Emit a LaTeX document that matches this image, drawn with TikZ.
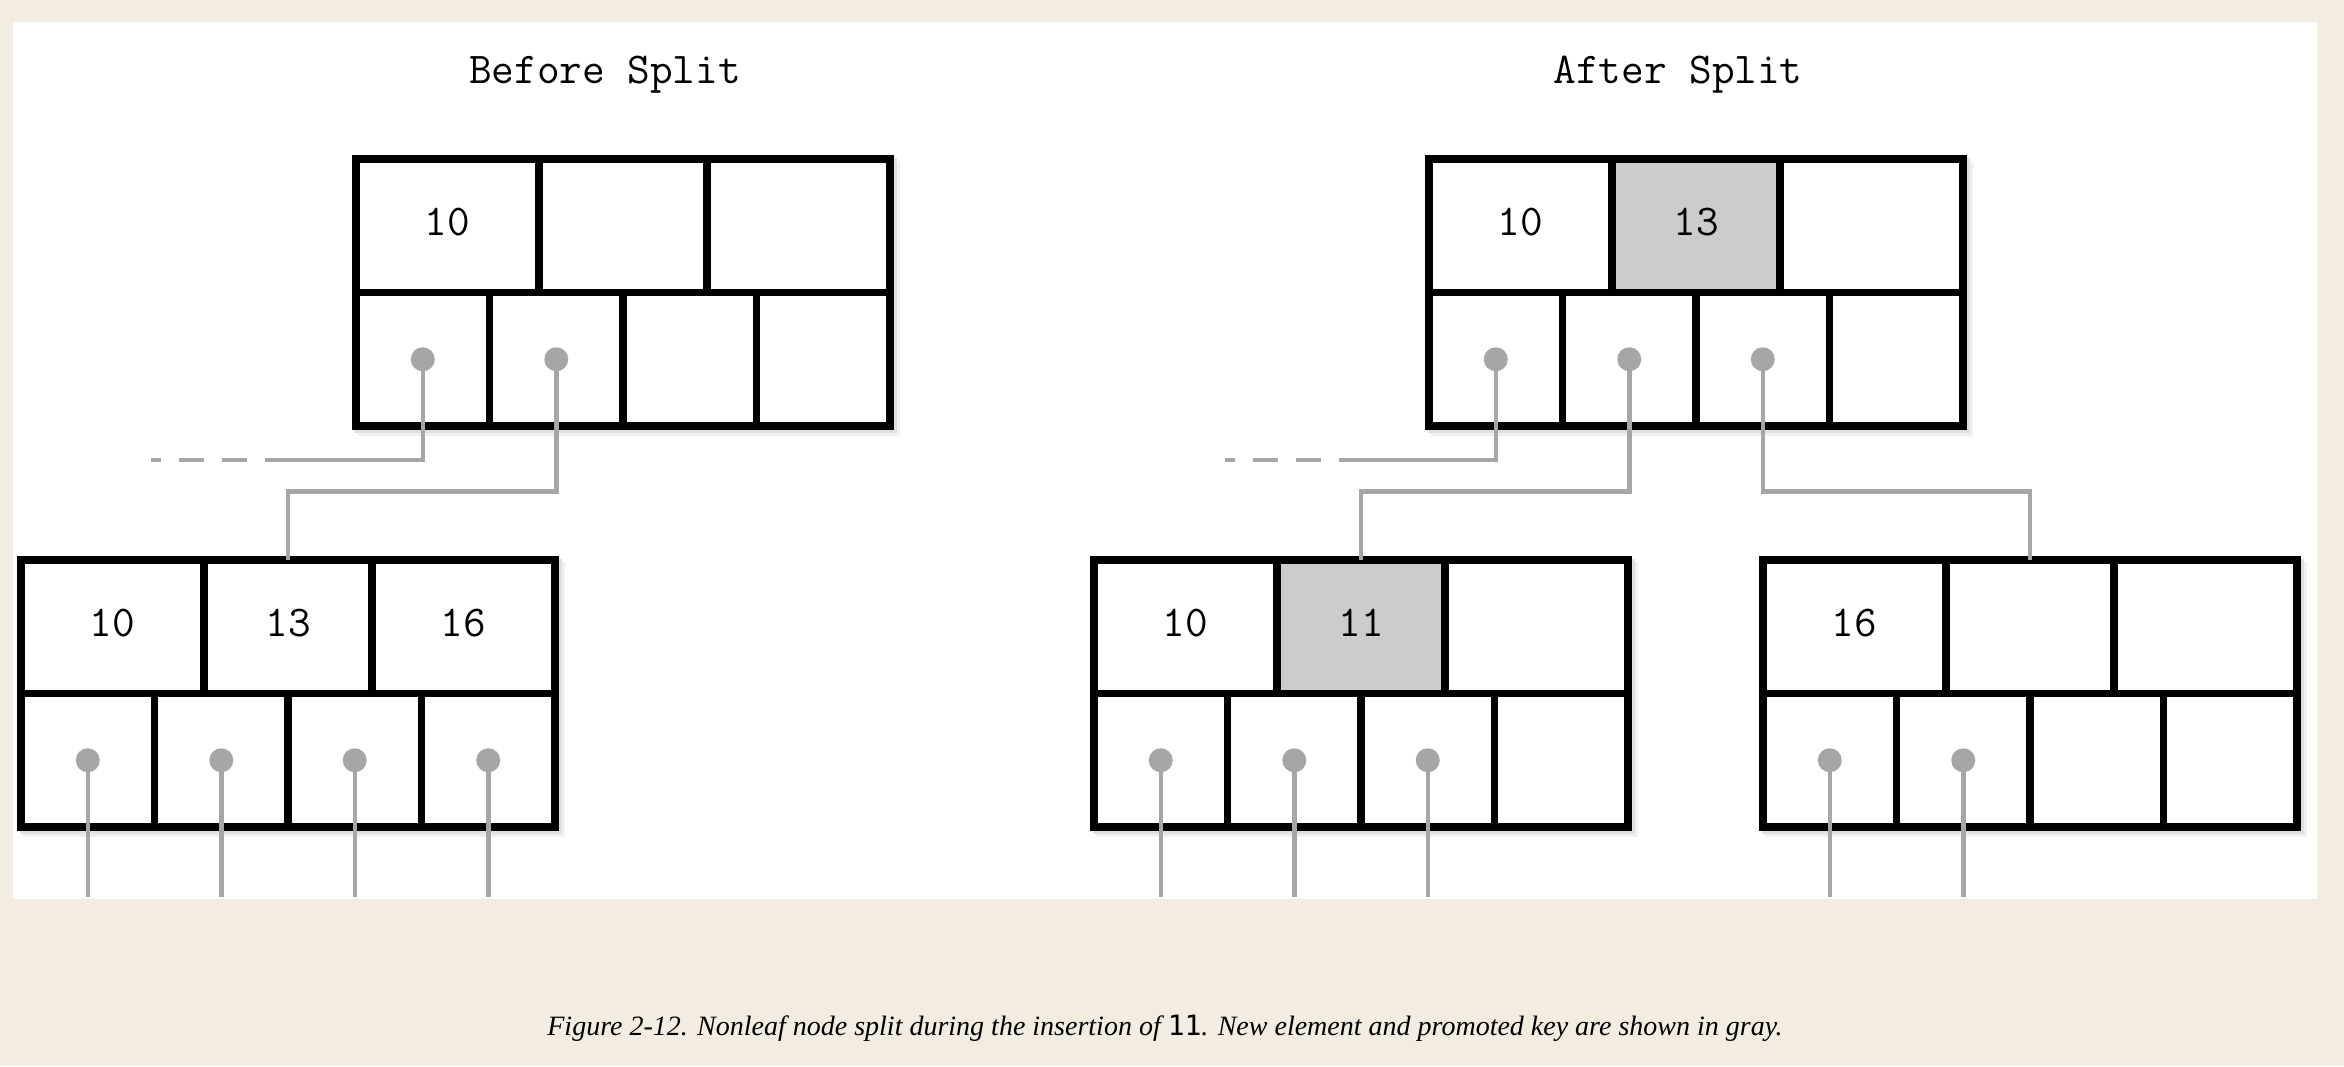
\documentclass[tikz,border=0pt]{standalone}
\usepackage{fontspec}
\setmainfont{Liberation Serif}
\newfontfamily\capmono{DejaVu Sans Mono}
\definecolor{pagebeige}{HTML}{F3ECE0}
\definecolor{ptrgray}{HTML}{A6A6A6}
\definecolor{hlgray}{HTML}{CCCCCC}
\newcommand\btnode[7]{%
  \fill[black!6] ({#2-270.75+6},{#3-3.75+6}) rectangle ++(541.5,274.5);
  \fill[black!12] ({#2-270.75+3},{#3-3.75+3}) rectangle ++(541.5,274.5);
  \node[keycell, minimum width=183pt, anchor=north west] (#1-k1) at ({#2-267},{#3}) {#4};
  \node[keycell, #7, minimum width=168pt, anchor=north] (#1-k2) at ({#2},{#3}) {#5};
  \node[keycell, minimum width=183pt, anchor=north east] (#1-k3) at ({#2+267},{#3}) {#6};
  \foreach \i in {1,2,3,4}{\node[ptrcell, anchor=north west] (#1-p\i) at ({#2-267+133.5*(\i-1)},{#3+133.5}) {};}
  \node[frame] (#1) at ({#2},{#3+133.5}) {};
}
\begin{document}
\begin{tikzpicture}[x=1pt,y=-1pt,
  keycell/.style={draw=black, line width=7.5pt, fill=white, minimum height=133.5pt,
    inner sep=0pt, outer sep=0pt, font=\ttfamily\fontsize{44}{52}\selectfont,
    text height=28pt, text depth=9pt},
  hl/.style={fill=hlgray},
  ptrcell/.style={draw=black, line width=7.5pt, fill=white, minimum width=133.5pt,
    minimum height=133.5pt, inner sep=0pt, outer sep=0pt},
  frame/.style={draw=black, line width=7.5pt, minimum width=534pt, minimum height=267pt,
    inner sep=0pt, outer sep=0pt},
  dot/.style={circle, fill=ptrgray, draw=none, minimum size=24pt, inner sep=0pt},
  ptr/.style={draw=ptrgray, line width=4.5pt},
  fade/.style={ptr, dash pattern=on 0pt off 18pt on 25pt off 18pt on 25pt off 18pt on 10pt off 300pt},
  title/.style={font=\ttfamily\fontsize{44}{52}\selectfont, anchor=base, inner sep=0pt}]
\useasboundingbox (0,0) rectangle (2344,1066);
\fill[pagebeige] (0,0) rectangle (2344,1066);
\fill[white] (13,22) rectangle (2317,899);
\coordinate (bottomline) at (0,897);

\node[title] (tbefore) at (605,83) {Before Split};
\node[title] (tafter) at (1678,83) {After Split};

% Before split
\btnode{BT}{623}{159}{10}{}{}{}
\btnode{BL}{288}{560}{10}{13}{16}{}
% After split
\btnode{AT}{1696}{159}{10}{13}{}{hl}
\btnode{AM}{1361}{560}{10}{11}{}{hl}
\btnode{AR}{2030}{560}{16}{}{}{}

% connectors (before)
\coordinate (bfade) at (265,460);
\coordinate (bfadeend) at (151,460);
\draw[ptr] (BT-p1.center) |- (bfade);
\draw[fade] (bfade) -- (bfadeend);
\draw[ptr] (BT-p2.center) -- ++(0,132) -| (BL.north);
\foreach \i in {1,2,3,4}{\draw[ptr] (BL-p\i.center) -- (BL-p\i.center |- bottomline);}

% connectors (after)
\coordinate (afade) at (1339,460);
\coordinate (afadeend) at (1225,460);
\draw[ptr] (AT-p1.center) |- (afade);
\draw[fade] (afade) -- (afadeend);
\draw[ptr] (AT-p2.center) -- ++(0,132) -| (AM.north);
\draw[ptr] (AT-p3.center) -- ++(0,132) -| (AR.north);
\foreach \i in {1,2,3}{\draw[ptr] (AM-p\i.center) -- (AM-p\i.center |- bottomline);}
\foreach \i in {1,2}{\draw[ptr] (AR-p\i.center) -- (AR-p\i.center |- bottomline);}

% dots
\foreach \i in {1,2}{\node[dot] (BT-d\i) at (BT-p\i.center) {};}
\foreach \i in {1,2,3,4}{\node[dot] (BL-d\i) at (BL-p\i.center) {};}
\foreach \i in {1,2,3}{\node[dot] (AT-d\i) at (AT-p\i.center) {};}
\foreach \i in {1,2,3}{\node[dot] (AM-d\i) at (AM-p\i.center) {};}
\foreach \i in {1,2}{\node[dot] (AR-d\i) at (AR-p\i.center) {};}

\node[anchor=base, inner sep=0pt, font=\itshape\fontsize{28}{33}\selectfont] (caption) at (1165,1035)
  {Figure 2-12. Nonleaf node split during the insertion of {\capmono\upshape\fontsize{28}{33}\selectfont 11}. New element and promoted key are shown in gray.};
\end{tikzpicture}
\end{document}
